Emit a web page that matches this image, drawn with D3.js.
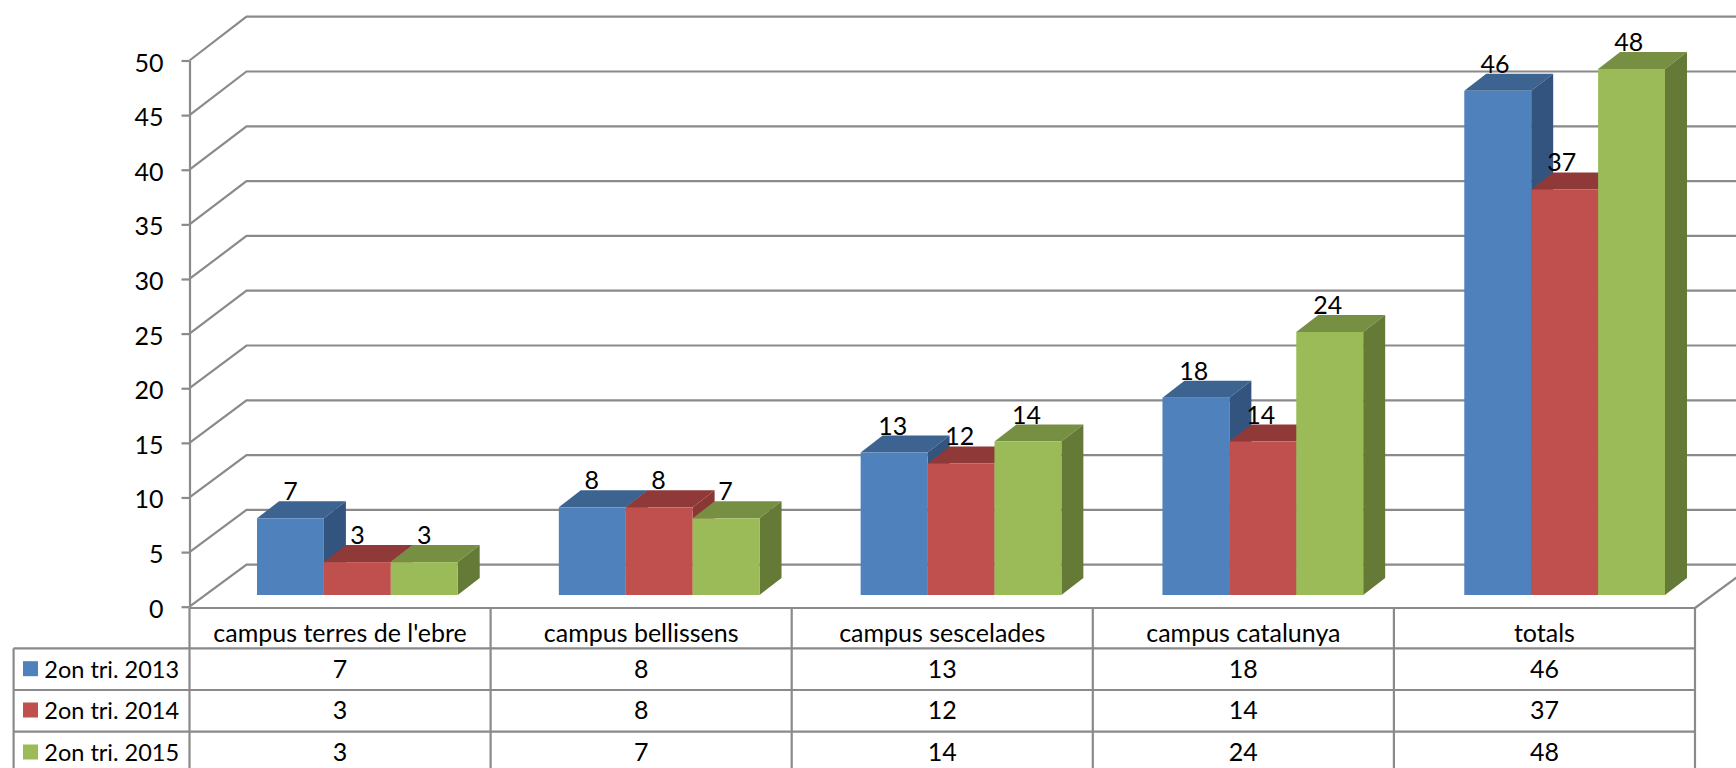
<!DOCTYPE html>
<html>
<head>
<meta charset="utf-8">
<script src="https://cdn.jsdelivr.net/npm/d3@7"></script>
<style>
  html, body { margin: 0; padding: 0; background: #fff; overflow: hidden; }
  text { font-family: Lato, "Open Sans", sans-serif; fill: #000; }
</style>
</head>
<body>
<script>
const categories = ["campus terres de l'ebre", "campus bellissens", "campus sescelades", "campus catalunya", "totals"];
const seriesNames = ["2on tri. 2013", "2on tri. 2014", "2on tri. 2015"];
const values2013 = [7, 8, 13, 18, 46];
const values2014 = [3, 8, 12, 14, 37];
const values2015 = [3, 7, 14, 24, 48];
const yTicks = [0, 5, 10, 15, 20, 25, 30, 35, 40, 45, 50];

const allValues = [values2013, values2014, values2015];
const colors = [
  { front: "#4f81bd", top: "#3d6391", side: "#32547e" },
  { front: "#c0504d", top: "#8f3a38", side: "#8a3735" },
  { front: "#9bbb59", top: "#778f43", side: "#667a38" }
];
const gridColor = "#8a8a8a";
const fontSize = 25;

const width = 1736, height = 768;
const axisX = 189.5, tableRight = 1695;
const depthX = 57, depthY = 42;       // floor/wall depth
const barDepthX = 22, barDepthY = 17; // bar depth
const tableRows = [608, 648.3, 690, 731.7, 773];
const legendLeft = 13.6;

const svg = d3.select("body").append("svg")
  .attr("width", width)
  .attr("height", height)
  .style("display", "block");

// scales
const yScale = d3.scaleLinear().domain([0, 50]).range([606.7, 60.5]);
const yBar = d3.scaleLinear().domain([0, 50]).range([595, 47]);
const yWall = d3.scaleLinear().domain([0, 50]).range([564.7, 16.7]);
const xColumn = d3.scaleBand().domain(categories).range([axisX, tableRight]);
const xGroup = d3.scaleBand().domain(categories).range([257, 1665]).paddingInner(0.335).paddingOuter(0);
const xSeries = d3.scaleBand().domain(seriesNames).range([0, xGroup.bandwidth()]);

// back wall gridlines, with the slanted bit on the side wall
svg.append("g").selectAll("path")
  .data(yTicks.slice(1))
  .enter()
  .append("path")
  .attr("d", d => `M${axisX},${yScale(d)}L${axisX + depthX},${yWall(d)}L${tableRight + depthX},${yWall(d)}`)
  .attr("fill", "none")
  .attr("stroke", gridColor)
  .attr("stroke-width", 2.2);

// floor
svg.append("path")
  .attr("d", `M${axisX},${yScale(0)}L${axisX + depthX},${yWall(0)}L${tableRight + depthX},${yWall(0)}`)
  .attr("fill", "none")
  .attr("stroke", gridColor)
  .attr("stroke-width", 2.2);
svg.append("path")
  .attr("d", `M${tableRight},${tableRows[0]}L${tableRight + depthX},${tableRows[0] - depthY}`)
  .attr("fill", "none")
  .attr("stroke", gridColor)
  .attr("stroke-width", 2.2);

// y axis
const yAxis = svg.append("g")
  .attr("transform", `translate(${axisX},0)`)
  .call(d3.axisLeft(yScale).tickValues(yTicks).tickSize(8).tickPadding(18).tickSizeOuter(0));
yAxis.selectAll("path, line").attr("stroke", gridColor).attr("stroke-width", 2.2);
yAxis.selectAll("text")
  .attr("font-size", fontSize)
  .attr("dy", "0.42em")
  .style("font-family", "Lato, sans-serif");

// bars
allValues.forEach(function(values, s) {
  const name = seriesNames[s];
  const bars = svg.append("g").selectAll("g")
    .data(values)
    .enter()
    .append("g");

  const x0 = (d, i) => xGroup(categories[i]) + xSeries(name);
  const x1 = (d, i) => x0(d, i) + xSeries.bandwidth();

  bars.append("path")
    .attr("d", (d, i) => `M${x0(d, i)},${yBar(d)}L${x0(d, i) + barDepthX},${yBar(d) - barDepthY}L${x1(d, i) + barDepthX},${yBar(d) - barDepthY}L${x1(d, i)},${yBar(d)}Z`)
    .attr("fill", colors[s].top);
  bars.append("path")
    .attr("d", (d, i) => `M${x1(d, i)},${yBar(d)}L${x1(d, i) + barDepthX},${yBar(d) - barDepthY}L${x1(d, i) + barDepthX},${yBar(0) - barDepthY}L${x1(d, i)},${yBar(0)}Z`)
    .attr("fill", colors[s].side);
  bars.append("rect")
    .attr("x", x0)
    .attr("y", d => yBar(d))
    .attr("width", xSeries.bandwidth())
    .attr("height", d => yBar(0) - yBar(d))
    .attr("fill", colors[s].front);
});

// data labels go on top of every bar, they follow the table columns not the bars
allValues.forEach(function(values, s) {
  svg.append("g").selectAll("text")
    .data(values)
    .enter()
    .append("text")
    .attr("x", (d, i) => xColumn(categories[i]) + 67.6 + (s + 0.5) * xSeries.bandwidth())
    .attr("y", d => yBar(d) - barDepthY - 1)
    .attr("text-anchor", "middle")
    .attr("font-size", fontSize)
    .text(d => d);
});

// data table lines
const table = svg.append("g").attr("stroke", gridColor).attr("stroke-width", 2.2);
tableRows.slice(0, 4).forEach(function(y, i) {
  table.append("line")
    .attr("x1", i === 0 ? axisX : legendLeft)
    .attr("x2", tableRight)
    .attr("y1", y)
    .attr("y2", y);
});
categories.concat([null]).forEach(function(c) {
  const x = c === null ? tableRight : xColumn(c);
  table.append("line").attr("x1", x).attr("x2", x).attr("y1", tableRows[0]).attr("y2", height);
});
table.append("line").attr("x1", legendLeft).attr("x2", legendLeft).attr("y1", tableRows[1]).attr("y2", height);

// category row
svg.append("g").selectAll("text")
  .data(categories)
  .enter()
  .append("text")
  .attr("x", d => xColumn(d) + xColumn.bandwidth() / 2)
  .attr("y", 642)
  .attr("text-anchor", "middle")
  .attr("font-size", fontSize)
  .text(d => d);

// value rows and legend keys
const rowBase = [677.7, 719, 761];
allValues.forEach(function(values, s) {
  svg.append("g").selectAll("text")
    .data(values)
    .enter()
    .append("text")
    .attr("x", (d, i) => xColumn(categories[i]) + xColumn.bandwidth() / 2)
    .attr("y", rowBase[s])
    .attr("text-anchor", "middle")
    .attr("font-size", fontSize)
    .text(d => d);

  svg.append("rect")
    .attr("x", 23)
    .attr("y", rowBase[s] - 16.5)
    .attr("width", 15)
    .attr("height", 15)
    .attr("fill", colors[s].front);

  svg.append("text")
    .attr("x", 44.3)
    .attr("y", rowBase[s])
    .attr("font-size", fontSize - 1.5)
    .text(seriesNames[s]);
});
</script>
</body>
</html>
